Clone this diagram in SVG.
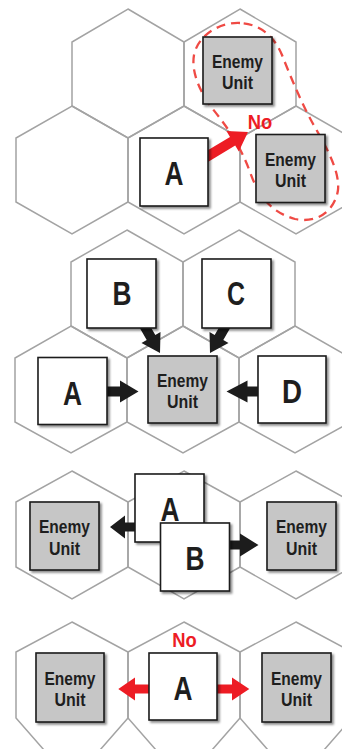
<svg xmlns="http://www.w3.org/2000/svg" width="342" height="749" viewBox="0 0 342 749">
  <defs>
    <filter id="shadow" x="-10%" y="-10%" width="130%" height="130%">
      <feDropShadow dx="2" dy="2" stdDeviation="1" flood-color="#000" flood-opacity="0.45"/>
    </filter>
    <style>
      .hex { fill: none; stroke: #a3a3a3; stroke-width: 1.5; stroke-linejoin: miter; }
      .unit { fill: #fff; stroke: #1c1c1c; stroke-width: 1.6; filter: url(#shadow); }
      .enemy { fill: #c6c6c6; stroke: #1c1c1c; stroke-width: 1.6; filter: url(#shadow); }
      .lbl { font-family: "Liberation Sans Narrow", "Liberation Sans", Arial, sans-serif; font-weight: bold; fill: #1e1e1e; text-anchor: middle; }
      .big { font-size: 33px; }
      .small { font-size: 18px; }
      .no { font-family: "Liberation Sans Narrow", "Liberation Sans", Arial, sans-serif; font-weight: bold; font-size: 20px; fill: #ed1c24; text-anchor: middle; }
      .move { fill: #1c1c1c; }
      .bad { fill: #ed1c24; }
      .zoc { fill: none; stroke: #ef4a44; stroke-width: 2.3; stroke-dasharray: 9 6; }
    </style>
  </defs>

  <rect width="342" height="749" fill="#fff"/>

  <!-- hex grid -->
  <g id="grid">
    <!-- panel 1 -->
    <polygon class="hex" points="128,9 184,42 184,106 128,138 72,106 72,42"/>
    <polygon class="hex" points="240,9 296,42 296,106 240,138 184,106 184,42"/>
    <polygon class="hex" points="72,106 128,138 128,202 72,234 16,202 16,138"/>
    <polygon class="hex" points="184,106 240,138 240,202 184,234 128,202 128,138"/>
    <polygon class="hex" points="296,106 352,138 352,202 296,234 240,202 240,138"/>
    <!-- panel 2 -->
    <polygon class="hex" points="127,230 183,262 183,326 127,358 71,326 71,262"/>
    <polygon class="hex" points="239,230 295,262 295,326 239,358 183,326 183,262"/>
    <polygon class="hex" points="71,326 127,358 127,422 71,453 15,422 15,358"/>
    <polygon class="hex" points="183,326 239,358 239,422 183,453 127,422 127,358"/>
    <polygon class="hex" points="295,326 351,358 351,422 295,453 239,422 239,358"/>
    <!-- panel 3 -->
    <polygon class="hex" points="72,471 128,502 128,567 72,599 16,567 16,502"/>
    <polygon class="hex" points="184,471 240,502 240,567 184,599 128,567 128,502"/>
    <polygon class="hex" points="296,471 352,502 352,567 296,599 240,567 240,502"/>
    <!-- panel 4 -->
    <polygon class="hex" points="72,622 128,652 128,718 72,782 16,718 16,652"/>
    <polygon class="hex" points="184,622 240,652 240,718 184,782 128,718 128,652"/>
    <polygon class="hex" points="296,622 352,652 352,718 296,782 240,718 240,652"/>
  </g>

  <!-- zone of control outline -->
  <path class="zoc" d="M240,23 C220,22 198,35 194,55 C191,72 200,92 212,108 C228,128 240,145 250,172 C258,195 270,212 295,219 C318,224 335,210 338,190 C340,170 325,145 312,122 C300,100 290,75 282,55 C274,36 260,24 240,23 Z"/>

  <!-- connectors -->
  <g id="connectors">
    <polygon class="bad" points="195.7,157.6 230,137 226.4,131.1 248,132 238.8,151.6 235.2,145.6 200.9,166.2"/>
    <polygon class="move" points="100,386.5 120,386.5 120,380.5 138.5,391.5 120,402.5 120,396.5 100,396.5"/>
    <polygon class="move" points="265,386.5 247.5,386.5 247.5,380.5 226.5,391.5 247.5,402.5 247.5,396.5 265,396.5"/>
    <polygon class="move" points="142.8,313.2 155.3,334.9 160.5,331.9 160,353 141.5,342.9 146.7,339.9 134.2,318.2"/>
    <polygon class="move" points="227.2,313.2 214.7,334.9 209.5,331.9 210,353 228.5,342.9 223.3,339.9 235.8,318.2"/>
    <polygon class="move" points="145,522.5 125,522.5 125,515.5 110,527 125,538.5 125,531.5 145,531.5"/>
    <polygon class="move" points="220,540.5 240,540.5 240,533.5 258.5,545 240,556.5 240,549.5 220,549.5"/>
    <polygon class="bad" points="160,684.5 135,684.5 135,677.5 118.3,689 135,700.5 135,693.5 160,693.5"/>
    <polygon class="bad" points="205,684.5 232,684.5 232,677.5 249.3,689 232,700.5 232,693.5 205,693.5"/>
  </g>

  <!-- panel 1 -->
  <g id="p1-enemy-top">
    <rect class="enemy" x="203" y="37" width="69" height="67"/>
    <text class="lbl small" x="237.5" y="68" textLength="51" lengthAdjust="spacingAndGlyphs">Enemy</text>
    <text class="lbl small" x="237.5" y="89" textLength="31" lengthAdjust="spacingAndGlyphs">Unit</text>
  </g>
  <g id="p1-enemy-right">
    <rect class="enemy" x="256" y="134.5" width="69" height="68"/>
    <text class="lbl small" x="290.5" y="166" textLength="51" lengthAdjust="spacingAndGlyphs">Enemy</text>
    <text class="lbl small" x="290.5" y="187" textLength="31" lengthAdjust="spacingAndGlyphs">Unit</text>
  </g>
  <g id="p1-unit-a">
    <rect class="unit" x="140" y="138" width="68" height="68"/>
    <text class="lbl big" x="174" y="184.5" textLength="19" lengthAdjust="spacingAndGlyphs">A</text>
  </g>
  <text class="no" x="260" y="129" textLength="24.5" lengthAdjust="spacingAndGlyphs">No</text>

  <!-- panel 2 -->
  <g id="p2-unit-b">
    <rect class="unit" x="87" y="259" width="69" height="69"/>
    <text class="lbl big" x="122" y="305" textLength="19" lengthAdjust="spacingAndGlyphs">B</text>
  </g>
  <g id="p2-unit-c">
    <rect class="unit" x="202" y="259" width="69" height="69"/>
    <text class="lbl big" x="236" y="305" textLength="18" lengthAdjust="spacingAndGlyphs">C</text>
  </g>
  <g id="p2-unit-a">
    <rect class="unit" x="38" y="357.5" width="69" height="67"/>
    <text class="lbl big" x="72.5" y="404.5" textLength="19" lengthAdjust="spacingAndGlyphs">A</text>
  </g>
  <g id="p2-enemy">
    <rect class="enemy" x="148" y="356" width="69" height="67"/>
    <text class="lbl small" x="182.5" y="387" textLength="51" lengthAdjust="spacingAndGlyphs">Enemy</text>
    <text class="lbl small" x="182.5" y="408" textLength="31" lengthAdjust="spacingAndGlyphs">Unit</text>
  </g>
  <g id="p2-unit-d">
    <rect class="unit" x="258" y="356" width="68" height="67"/>
    <text class="lbl big" x="292" y="403" textLength="20" lengthAdjust="spacingAndGlyphs">D</text>
  </g>

  <!-- panel 3 -->
  <g id="p3-enemy-left">
    <rect class="enemy" x="30" y="502" width="69" height="68"/>
    <text class="lbl small" x="64.5" y="533" textLength="51" lengthAdjust="spacingAndGlyphs">Enemy</text>
    <text class="lbl small" x="64.5" y="555" textLength="31" lengthAdjust="spacingAndGlyphs">Unit</text>
  </g>
  <g id="p3-enemy-right">
    <rect class="enemy" x="267" y="502" width="69" height="68"/>
    <text class="lbl small" x="301.5" y="533" textLength="51" lengthAdjust="spacingAndGlyphs">Enemy</text>
    <text class="lbl small" x="301.5" y="555" textLength="31" lengthAdjust="spacingAndGlyphs">Unit</text>
  </g>
  <g id="p3-unit-a">
    <rect class="unit" x="135" y="474" width="69" height="68"/>
    <text class="lbl big" x="170" y="520.5" textLength="19" lengthAdjust="spacingAndGlyphs">A</text>
  </g>
  <g id="p3-unit-b">
    <rect class="unit" x="160.5" y="523" width="69" height="68"/>
    <text class="lbl big" x="195" y="569.5" textLength="19" lengthAdjust="spacingAndGlyphs">B</text>
  </g>

  <!-- panel 4 -->
  <g id="p4-enemy-left">
    <rect class="enemy" x="36" y="653" width="68" height="69"/>
    <text class="lbl small" x="70" y="684.5" textLength="51" lengthAdjust="spacingAndGlyphs">Enemy</text>
    <text class="lbl small" x="70" y="706" textLength="31" lengthAdjust="spacingAndGlyphs">Unit</text>
  </g>
  <g id="p4-unit-a">
    <rect class="unit" x="149" y="653" width="68" height="67"/>
    <text class="lbl big" x="183" y="700" textLength="19" lengthAdjust="spacingAndGlyphs">A</text>
  </g>
  <g id="p4-enemy-right">
    <rect class="enemy" x="262" y="653" width="69" height="69"/>
    <text class="lbl small" x="296.5" y="684.5" textLength="51" lengthAdjust="spacingAndGlyphs">Enemy</text>
    <text class="lbl small" x="296.5" y="706" textLength="31" lengthAdjust="spacingAndGlyphs">Unit</text>
  </g>
  <text class="no" x="184.5" y="646.5" textLength="24.5" lengthAdjust="spacingAndGlyphs">No</text>
</svg>
